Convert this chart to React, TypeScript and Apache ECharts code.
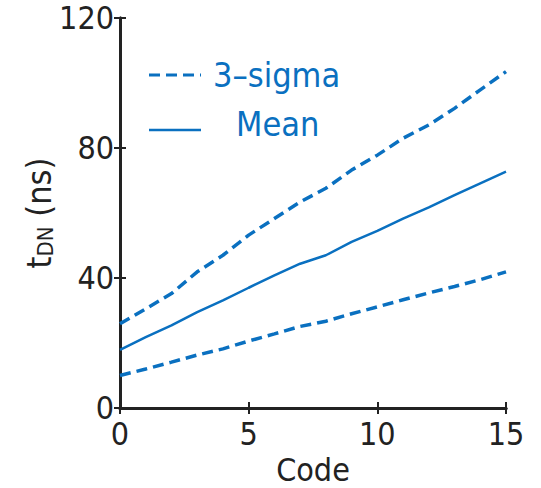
import React, { useEffect, useRef } from "react";
import * as echarts from "echarts";

const codes = [0, 1, 2, 3, 4, 5, 6, 7, 8, 9, 10, 11, 12, 13, 14, 15];
const upper3Sigma = [25.9, 30.5, 35.2, 41.9, 47.0, 53.2, 58.3, 63.4, 67.6, 73.2, 77.8, 83.0, 87.1, 92.2, 97.9, 103.5];
const meanValues = [17.9, 21.8, 25.4, 29.5, 33.1, 37.0, 40.8, 44.4, 47.0, 51.1, 54.5, 58.3, 61.7, 65.5, 69.1, 72.7];
const lower3Sigma = [10.0, 12.0, 14.1, 16.3, 18.2, 20.6, 22.8, 25.1, 26.7, 29.0, 31.1, 33.3, 35.4, 37.4, 39.5, 41.9];
const xTicks = { min: 0, max: 15, interval: 5 };
const yTicks = { min: 0, max: 120, interval: 40 };
const legendLabels = ["3\u2013sigma", "Mean"];

const BLUE = "#0a70c0";
const INK = "#222222";
const FONT = "'DejaVu Sans Condensed', 'Liberation Sans Narrow', sans-serif";

export default function App() {
  const ref = useRef<HTMLDivElement>(null);
  useEffect(() => {
    if (!ref.current) return;
    const chart = echarts.init(ref.current, null, { renderer: "svg" });
    const pair = (vals: number[]) => codes.map((c, i) => [c, vals[i]]);
    const axisCommon = {
      axisLine: { show: true, lineStyle: { color: INK, width: 3 } },
      axisTick: { show: true, inside: true, length: 6, lineStyle: { color: INK, width: 2 } },
      splitLine: { show: false },
    };
    chart.setOption({
      animation: false,
      backgroundColor: "#ffffff",
      grid: { left: 120, right: 35, top: 18, bottom: 80, outerBoundsMode: "none", containLabel: false },
      xAxis: [
        {
          type: "value",
          ...xTicks,
          ...axisCommon,
          name: "Code",
          nameLocation: "middle",
          nameMoveOverlap: false,
          nameGap: 46,
          nameTextStyle: { fontFamily: FONT, fontSize: 32, color: INK, verticalAlign: "top", lineHeight: 32 },
          axisLabel: { fontFamily: FONT, fontSize: 32, color: INK, margin: 10 },
        },
        {
          type: "value",
          position: "top",
          ...xTicks,
          ...axisCommon,
          axisLabel: { show: false },
        },
      ],
      yAxis: [
        {
          type: "value",
          ...yTicks,
          ...axisCommon,
          name: "{t|t}{s|DN}{p| (ns)}",
          nameLocation: "middle",
          nameMoveOverlap: false,
          nameRotate: 90,
          nameGap: 64,
          nameTextStyle: {
            color: INK,
            rich: {
              t: { fontFamily: FONT, fontSize: 34, color: INK, verticalAlign: "bottom", lineHeight: 38 },
              s: { fontFamily: FONT, fontSize: 22, color: INK, verticalAlign: "bottom", lineHeight: 38 },
              p: { fontFamily: FONT, fontSize: 34, color: INK, verticalAlign: "bottom", lineHeight: 38 },
            },
          },
          axisLabel: { fontFamily: FONT, fontSize: 32, color: INK, margin: 6 },
        },
        {
          type: "value",
          position: "right",
          ...yTicks,
          ...axisCommon,
          axisLabel: { show: false },
        },
      ],
      series: [
        {
          name: legendLabels[0],
          type: "line",
          data: pair(upper3Sigma),
          showSymbol: false,
          lineStyle: { color: BLUE, width: 3.5, type: [11, 6] },
        },
        {
          name: legendLabels[1],
          type: "line",
          data: pair(meanValues),
          showSymbol: false,
          lineStyle: { color: BLUE, width: 2.5, type: "solid" },
        },
        {
          name: legendLabels[0],
          type: "line",
          data: pair(lower3Sigma),
          showSymbol: false,
          lineStyle: { color: BLUE, width: 3.5, type: [11, 6] },
        },
      ],
      graphic: [
        {
          type: "line",
          shape: { x1: 149, y1: 75, x2: 201, y2: 75 },
          style: { stroke: BLUE, lineWidth: 3, lineDash: [11, 6] },
        },
        {
          type: "line",
          shape: { x1: 149, y1: 130, x2: 201, y2: 130 },
          style: { stroke: BLUE, lineWidth: 2.5 },
        },
        {
          type: "text",
          x: 213,
          y: 75,
          style: {
            text: legendLabels[0],
            fill: BLUE,
            font: `34px ${FONT}`,
            verticalAlign: "middle",
          },
        },
        {
          type: "text",
          x: 236,
          y: 124,
          style: {
            text: legendLabels[1],
            fill: BLUE,
            font: `34px ${FONT}`,
            verticalAlign: "middle",
          },
        },
      ],
    });
    return () => chart.dispose();
  }, []);
  return (
    <div
      ref={ref}
      style={{ position: "fixed", left: 0, top: 0, width: 541, height: 488 }}
    />
  );
}
